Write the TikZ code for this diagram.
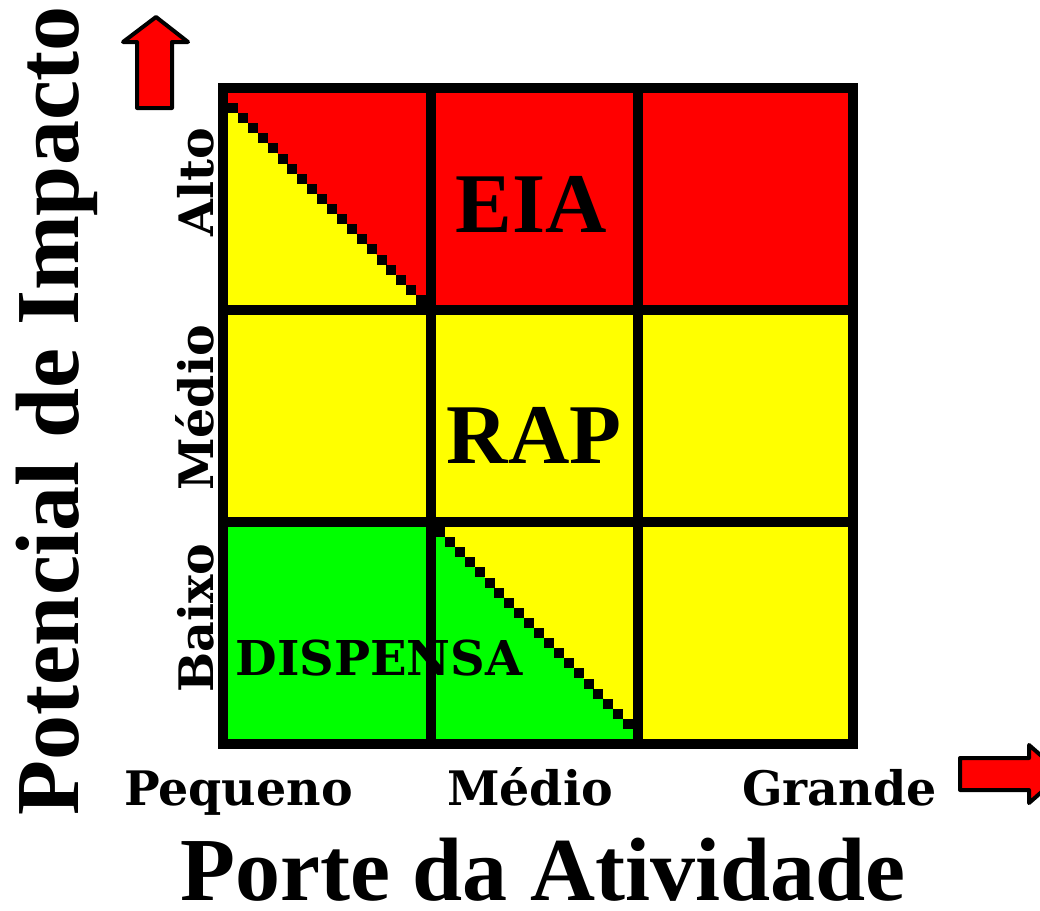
\documentclass[tikz,border=0pt]{standalone}
\usepackage{fontspec}
\setmainfont{Liberation Serif}
\newfontfamily\slabfont{DejaVu Serif}
\definecolor{cellred}{RGB}{255,0,0}
\definecolor{cellyellow}{RGB}{255,255,0}
\definecolor{cellgreen}{RGB}{0,255,0}
\begin{document}
\begin{tikzpicture}[x=1pt,y=-1pt,
    title/.style={font=\bfseries\fontsize{90}{90}\selectfont, inner sep=0pt, anchor=base},
    cell label/.style={font=\bfseries\fontsize{85}{85}\selectfont, inner sep=0pt, anchor=base},
    scale label/.style={font=\slabfont\bfseries\fontsize{47.5}{47.5}\selectfont, inner sep=0pt, anchor=base},
    grid line/.style={line width=10pt},
    big arrow/.style={fill=cellred, draw=black, line width=4pt, line join=round}]
            \useasboundingbox (0,0) rectangle (1040,910);
            \clip (0,0) rectangle (1040,910);

            % cells
            \fill[cellred] (223,88) rectangle (853,309.5);
            \fill[cellyellow] (223,309.5) rectangle (853,744);
            \fill[cellgreen] (223,522) rectangle (430.5,744);
            \fill[cellyellow] (228,103) -- (426,305) -- (228,305) -- cycle;
            \fill[cellgreen] (435,527) -- (633,729) -- (633,739) -- (435,739) -- cycle;

            % steps
            \foreach \i in {0,...,19}
                \fill (228+9.9*\i,103+10.1*\i) rectangle +(10,10);
            \foreach \i in {0,...,19}
                \fill (435+9.9*\i,527+10.1*\i) rectangle +(10,10);

            % cell texts
            \node[cell label] (eia) at (531,232) {EIA};
            \node[cell label] (rap) at (534,463) {RAP};
            \node[scale label, font=\slabfont\bfseries\fontsize{48}{48}\selectfont] (dispensa) at (379,675) {DISPENSA};

            % grid
            \draw[grid line] (223,88) rectangle (853,744);
            \draw[grid line] (430.5,88) -- (430.5,744);
            \draw[grid line] (638,88) -- (638,744);
            \draw[grid line] (223,309.5) -- (853,309.5);
            \draw[grid line] (223,522) -- (853,522);

            % axes
            \node[scale label] (pequeno) at (238.5,805) {Pequeno};
            \node[scale label] (medio x) at (530,805) {Médio};
            \node[scale label] (grande) at (839.5,805) {Grande};
            \node[scale label, rotate=90] (alto) at (213,182) {Alto};
            \node[scale label, rotate=90] (medio y) at (213,408) {Médio};
            \node[scale label, rotate=90] (baixo) at (213,618) {Baixo};
            \node[title, rotate=90] (potencial) at (78,411) {Potencial de Impacto};
            \node[title] (porte) at (543,900) {Porte da Atividade};

            % arrows
            \draw[big arrow] (156,17) -- (188,42) -- (172,42) -- (172,108) -- (137,108) -- (137,42) -- (123,42) -- cycle;
            \draw[big arrow] (960,758) -- (1029,758) -- (1029,745) -- (1062,774) -- (1029,803) -- (1029,790) -- (960,790) -- cycle;
\end{tikzpicture}
\end{document}
